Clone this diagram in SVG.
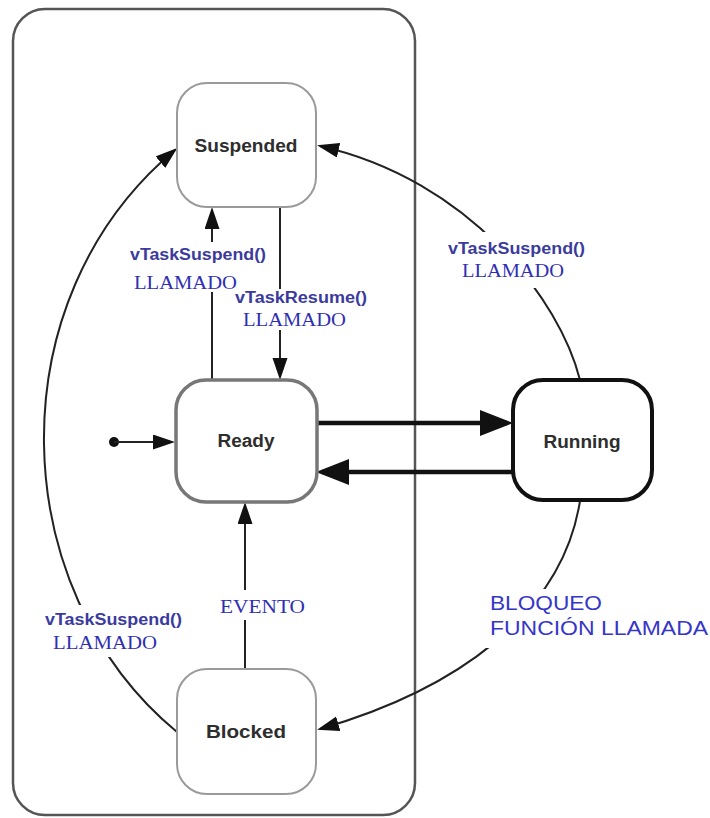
<svg xmlns="http://www.w3.org/2000/svg" width="710" height="818" viewBox="0 0 710 818">
  <style>
    .frame { fill: none; stroke: #555; stroke-width: 2.5; }
    .state { fill: #fff; }
    .light { stroke: #9a9a9a; stroke-width: 2; }
    .mid { stroke: #777; stroke-width: 3.5; }
    .dark { stroke: #111; stroke-width: 4; }
    .name { font-family: "Liberation Sans", Arial, sans-serif; font-weight: bold; font-size: 18px; fill: #2e2e2e; text-anchor: middle; }
    .wire { fill: none; stroke: #222; stroke-width: 2; }
    .thick { fill: none; stroke: #111; stroke-width: 4.5; }
    .fn { font-family: "Liberation Sans", Arial, sans-serif; font-weight: bold; font-size: 16px; fill: #3b3b9e; }
    .word { font-family: "Liberation Serif", "Times New Roman", serif; font-size: 18px; fill: #2f2fb4; }
    .note { font-family: "Liberation Sans", Arial, sans-serif; font-size: 21px; fill: #3636c8; }
    .bg { fill: #fff; }
  </style>
  <defs>
    <marker id="head" markerUnits="userSpaceOnUse" markerWidth="24" markerHeight="16" refX="19" refY="7.5" orient="auto">
      <path d="M0,0 L22,7.5 L0,15 z" fill="#111"/>
    </marker>
    <marker id="bighead" markerUnits="userSpaceOnUse" markerWidth="34" markerHeight="28" refX="27" refY="13" orient="auto">
      <path d="M0,0 L33,13 L0,26 z" fill="#111"/>
    </marker>
  </defs>

  <rect width="710" height="818" fill="#fff"/>

  <!-- enclosing region for the non-running states -->
  <rect class="frame" x="13" y="9" width="402" height="806" rx="32" ry="32"/>

  <g id="connectors">
    <!-- initial pseudo-state -->
    <circle cx="114" cy="442" r="5" fill="#111"/>
    <path class="wire" d="M114,442 L172,442" marker-end="url(#head)"/>
    <!-- Ready <-> Running -->
    <path class="thick" d="M317,423 L507,423" marker-end="url(#bighead)"/>
    <path class="thick" d="M513,472 L322,472" marker-end="url(#bighead)"/>
    <!-- Ready <-> Suspended -->
    <path class="wire" d="M212,380 L212,210" marker-end="url(#head)"/>
    <path class="wire" d="M280,207 L280,377" marker-end="url(#head)"/>
    <!-- Blocked -> Ready -->
    <path class="wire" d="M245,669 L245,505" marker-end="url(#head)"/>
    <!-- Running -> Suspended -->
    <path class="wire" d="M580,380 C560,300 470,180 320,146" marker-end="url(#head)"/>
    <!-- Blocked -> Suspended -->
    <path class="wire" d="M177,732 C5,590 -5,300 175,150" marker-end="url(#head)"/>
    <!-- Running -> Blocked -->
    <path class="wire" d="M580,501 C562,615 455,690 320,729" marker-end="url(#head)"/>
  </g>

  <g id="labels">
    <rect class="bg" x="127" y="242" width="142" height="50"/>
    <text class="fn" x="130" y="260" textLength="136" lengthAdjust="spacingAndGlyphs">vTaskSuspend()</text>
    <text class="word" x="134" y="289" textLength="103" lengthAdjust="spacingAndGlyphs">LLAMADO</text>

    <rect class="bg" x="232" y="289" width="138" height="41"/>
    <text class="fn" x="235" y="303" textLength="132" lengthAdjust="spacingAndGlyphs">vTaskResume()</text>
    <text class="word" x="243" y="326" textLength="103" lengthAdjust="spacingAndGlyphs">LLAMADO</text>

    <rect class="bg" x="442" y="232" width="150" height="56"/>
    <text class="fn" x="448" y="254" textLength="137" lengthAdjust="spacingAndGlyphs">vTaskSuspend()</text>
    <text class="word" x="462" y="277" textLength="102" lengthAdjust="spacingAndGlyphs">LLAMADO</text>

    <rect class="bg" x="40" y="605" width="148" height="52"/>
    <text class="fn" x="45" y="625" textLength="137" lengthAdjust="spacingAndGlyphs">vTaskSuspend()</text>
    <text class="word" x="53" y="649" textLength="104" lengthAdjust="spacingAndGlyphs">LLAMADO</text>

    <rect class="bg" x="216" y="590" width="94" height="30"/>
    <text class="word" x="220" y="613" textLength="85" lengthAdjust="spacingAndGlyphs">EVENTO</text>

    <rect class="bg" x="485" y="589" width="225" height="59"/>
    <text class="note" x="490" y="610" textLength="112" lengthAdjust="spacingAndGlyphs">BLOQUEO</text>
    <text class="note" x="490" y="635" textLength="218" lengthAdjust="spacingAndGlyphs">FUNCIÓN LLAMADA</text>
  </g>

  <g id="suspended">
    <rect class="state light" x="177" y="83" width="139" height="124" rx="30" ry="30"/>
    <text class="name" x="246" y="152" textLength="103" lengthAdjust="spacingAndGlyphs">Suspended</text>
  </g>

  <g id="ready">
    <rect class="state mid" x="176" y="380" width="141" height="122" rx="30" ry="30"/>
    <text class="name" x="246" y="447" textLength="57" lengthAdjust="spacingAndGlyphs">Ready</text>
  </g>

  <g id="running">
    <rect class="state dark" x="513" y="380" width="139" height="120" rx="30" ry="30"/>
    <text class="name" x="582" y="448" textLength="77" lengthAdjust="spacingAndGlyphs">Running</text>
  </g>

  <g id="blocked">
    <rect class="state light" x="177" y="669" width="139" height="125" rx="30" ry="30"/>
    <text class="name" x="246" y="738" textLength="80" lengthAdjust="spacingAndGlyphs">Blocked</text>
  </g>
</svg>
